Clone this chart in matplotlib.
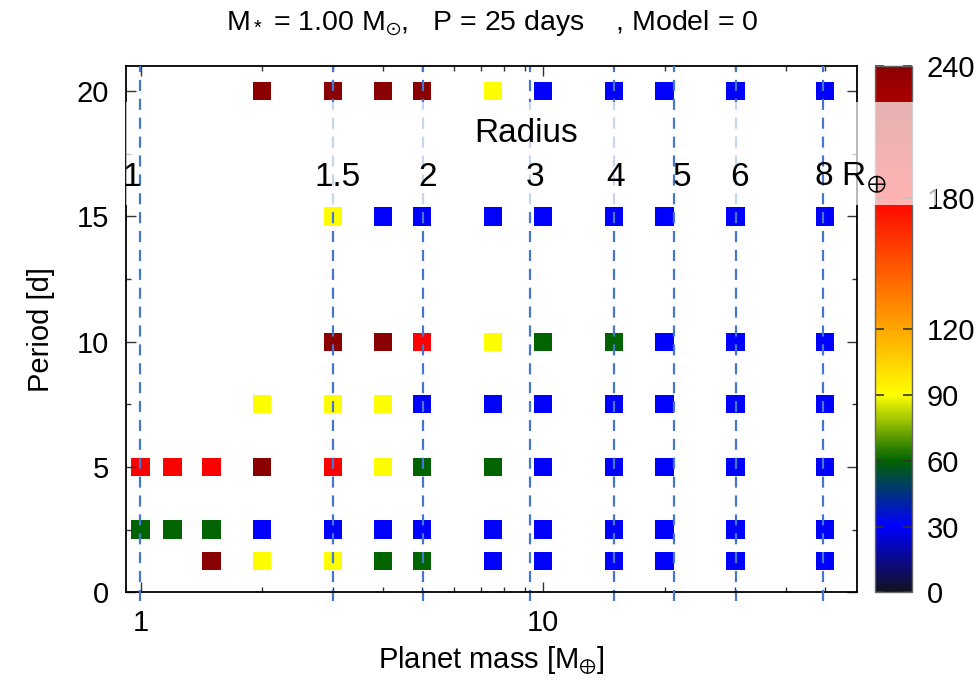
import numpy as np
import matplotlib
matplotlib.use("Agg")
import matplotlib.pyplot as plt
from matplotlib.colors import LinearSegmentedColormap
from matplotlib.patches import Rectangle
from matplotlib.ticker import FixedLocator, NullFormatter
import matplotlib.transforms as mtransforms

plt.rcParams['font.family'] = ['Liberation Sans', 'DejaVu Sans']
plt.rcParams['mathtext.fontset'] = 'custom'
plt.rcParams['mathtext.rm'] = 'Liberation Sans'
plt.rcParams['mathtext.it'] = 'Liberation Sans:italic'
plt.rcParams['mathtext.bf'] = 'Liberation Sans:bold'
plt.rcParams['mathtext.fallback'] = 'stixsans'

# ---------------- data ----------------
masses = [1, 1.2, 1.5, 2, 3, 4, 5, 7.5, 10, 15, 20, 30, 50]
periods = [1.25, 2.5, 5, 7.5, 10, 15, 20]
nan = np.nan
row_p1_25 = [nan, nan, 240, 90, 90, 60, 60, 30, 30, 30, 30, 30, 30]
row_p2_5 = [60, 60, 60, 30, 30, 30, 30, 30, 30, 30, 30, 30, 30]
row_p5 = [180, 180, 180, 240, 180, 90, 60, 60, 30, 30, 30, 30, 30]
row_p7_5 = [nan, nan, nan, 90, 90, 90, 30, 30, 30, 30, 30, 30, 30]
row_p10 = [nan, nan, nan, nan, 240, 240, 180, 90, 60, 60, 30, 30, 30]
row_p15 = [nan, nan, nan, nan, 90, 30, 30, 30, 30, 30, 30, 30, 30]
row_p20 = [nan, nan, nan, 240, 240, 240, 240, 90, 30, 30, 30, 30, 30]
rows = [row_p1_25, row_p2_5, row_p5, row_p7_5, row_p10, row_p15, row_p20]

radius_labels = ['1', '1.5', '2', '3', '4', '5', '6', '8']
radius_masses = [0.997, 3.0, 5.03, 9.25, 15.0, 21.1, 30.1, 49.4]

cbar_ticks = [0, 30, 60, 90, 120, 180, 240]
title = r'M$_*$ = 1.00 M$_{\odot}$,   P = 25 days    , Model = 0'

# ---------------- styling ----------------
W, H = 980, 680
fig = plt.figure(figsize=(W / 100, H / 100), dpi=100)

ax_l, ax_r, ax_t, ax_b = 126, 856.7, 66, 592.3
ax = fig.add_axes([ax_l / W, 1 - ax_b / H, (ax_r - ax_l) / W, (ax_b - ax_t) / H])
cax = fig.add_axes([875 / W, 1 - ax_b / H, 36.7 / W, (ax_b - ax_t) / H])
cax.set_zorder(-1)

cmap = LinearSegmentedColormap.from_list('gp', [
    (0 / 240, (0.07, 0.07, 0.12)),
    (30 / 240, (0.0, 0.0, 1.0)),
    (60 / 240, (0.0, 0.39, 0.0)),
    (90 / 240, (1.0, 1.0, 0.0)),
    (120 / 240, (1.0, 0.65, 0.0)),
    (180 / 240, (1.0, 0.0, 0.0)),
    (240 / 240, (0.545, 0.0, 0.0)),
], N=512)

X, Y, C = [], [], []
for p, row in zip(periods, rows):
    for m, v in zip(masses, row):
        if not np.isnan(v):
            X.append(m); Y.append(p); C.append(v)

sc = ax.scatter(X, Y, c=C, cmap=cmap, vmin=0, vmax=240, marker='s', s=174,
                linewidths=0, zorder=1.5)

ax.set_xscale('log')
ax.set_xlim(0.92, 60)
ax.set_ylim(0, 21)
ax.xaxis.set_major_locator(FixedLocator([1, 10]))
ax.set_xticklabels(['1', '10'])
ax.xaxis.set_minor_locator(FixedLocator([2, 3, 4, 5, 6, 7, 8, 9, 20, 30, 40, 50]))
ax.xaxis.set_minor_formatter(NullFormatter())
ax.set_yticks([0, 5, 10, 15, 20])
ax.set_yticks([2.5, 7.5, 12.5, 17.5], minor=True)
ax.tick_params(which='both', direction='in', top=True, right=True,
               labelsize=21, color='#333333', width=1.0)
ax.tick_params(which='major', length=7.5)
ax.tick_params(which='minor', length=3.8)
ax.tick_params(axis='x', pad=12)
ax.tick_params(axis='y', pad=12)
for s in ax.spines.values():
    s.set_linewidth(1.3)
    s.set_color('black')

ax.set_xlabel(r'Planet mass [M$_{\oplus}$]', fontsize=21, labelpad=5)
ax.set_ylabel('Period [d]', fontsize=21, labelpad=16)
fig.text(492 / W, 1 - 23 / H, title, fontsize=20.5, ha='center', va='center')

# radius lines
line_col = '#4677CC'
over_box = {'1', '5', '8'}
for lab, m in zip(radius_labels, radius_masses):
    z = 4 if lab in over_box else 2
    ax.plot([m, m], [-0.35, 21], color=line_col, lw=1.6, ls=(0, (5, 3.5)),
            clip_on=False, zorder=z)

# translucent box behind the radius labels
box = Rectangle((ax_l / W, 1 - 205 / H), (936 - ax_l) / W, (205 - 102) / H,
                transform=fig.transFigure, facecolor='white', alpha=0.7,
                edgecolor='none', zorder=3, clip_on=False)
ax.add_artist(box)

label_offsets = {'1': -8, '1.5': 5, '2': 4, '3': 5, '4': 1, '5': 8, '6': 4}
ylab = (ax_b - 178) / ((ax_b - ax_t) / 21)
for lab, m in zip(radius_labels, radius_masses):
    if lab == '8':
        tr = mtransforms.offset_copy(ax.transData, fig=fig, x=-9 * 0.72, y=0, units='points')
        ax.text(m, ylab, r'8 R$_{\oplus}$', fontsize=24, ha='left', va='center',
                transform=tr, zorder=5, clip_on=False)
    else:
        tr = mtransforms.offset_copy(ax.transData, fig=fig, x=label_offsets[lab] * 0.72,
                                     y=0, units='points')
        ax.text(m, ylab, lab, fontsize=24, ha='center', va='center', transform=tr,
                zorder=5, clip_on=False)
ax.text((526 - ax_l) / (ax_r - ax_l), 1 - (133 - ax_t) / (ax_b - ax_t), 'Radius',
        fontsize=24, ha='center', va='center', transform=ax.transAxes, zorder=5)

# colorbar
cb = fig.colorbar(sc, cax=cax, ticks=cbar_ticks)
cb.outline.set_edgecolor('#666666')
cb.outline.set_linewidth(1.0)
cax.tick_params(direction='in', left=True, right=True, length=6.5, width=1.2,
                color='#333333', labelsize=21, pad=11)

fig.savefig('out.png', dpi=100)
